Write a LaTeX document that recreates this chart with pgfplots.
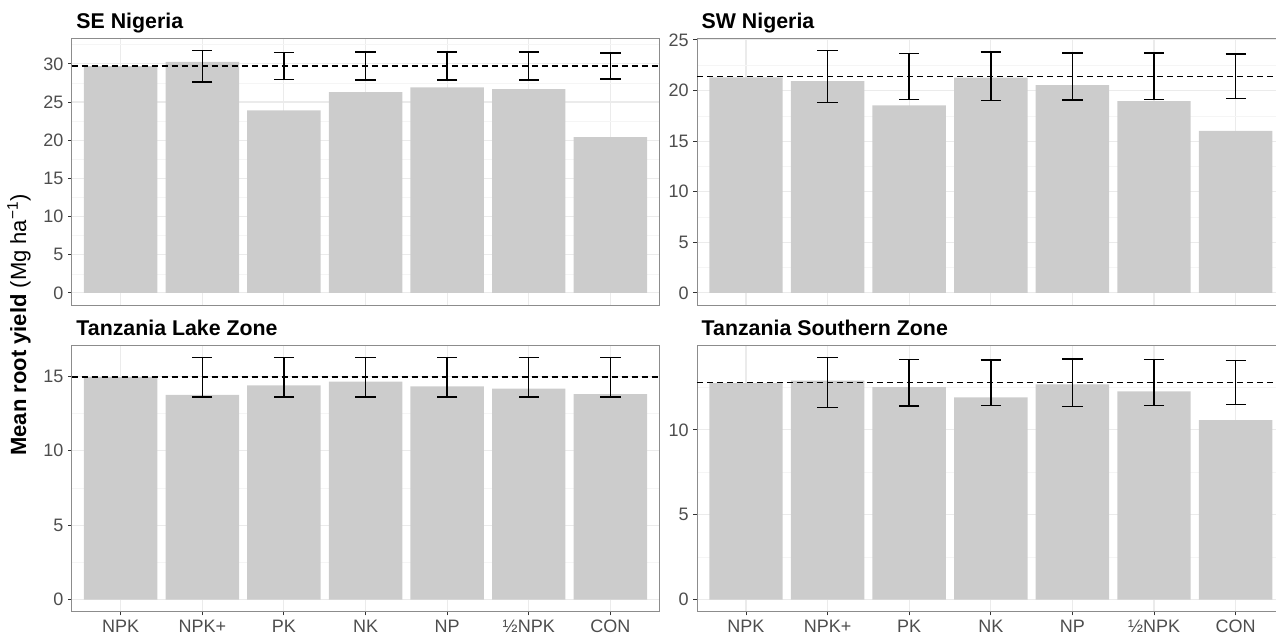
\documentclass[border=0pt]{standalone}
\usepackage{fontspec}
\setmainfont{Liberation Sans}
\usepackage{pgfplots}
\pgfplotsset{compat=1.18}

\definecolor{barfill}{RGB}{204,204,204}
\definecolor{gridmaj}{RGB}{235,235,235}
\definecolor{gridmin}{RGB}{245,245,245}
\definecolor{ticktext}{RGB}{77,77,77}
\definecolor{panelframe}{RGB}{140,140,140}

\pgfplotsset{
  every axis title/.style={at={(0,1)}, anchor=base west, xshift=0pt, yshift=7.3pt,
    font=\bfseries\fontsize{16}{18}\selectfont},
  panel/.style={
    scale only axis, width=440.7pt, height=199.7pt,
    xmin=0.4, xmax=7.6,
    xtick={1,2,3,4,5,6,7},
    ytick distance=5, minor y tick num=1,
    xmajorgrids, ymajorgrids, yminorgrids,
    major grid style={gridmaj, line width=0.8pt},
    minor grid style={gridmin, line width=0.4pt},
    axis line style={panelframe, line width=0.7pt},
    tick align=outside, xtick pos=bottom, ytick pos=left,
    major tick length=2.7pt, minor tick length=0pt,
    major tick style={color=black!80, line width=0.7pt},
    tick label style={font=\fontsize{13.5}{15}\selectfont, text=ticktext},
    /pgf/number format/assume math mode=true,
  },
  % right-hand panels run off the right edge of the picture
  rightcol/.style={width=434.2pt, xmax=7.494, axis x line*=box, axis y line*=left},
  toprow/.style={xticklabels={}, xtick style={draw=none}},
  botrow/.style={xticklabels={NPK,NPK+,PK,NK,NP,½NPK,CON}},
  bars/.style={ybar, bar width=0.9, fill=barfill, draw=none},
  ref/.style={black, line width=1.1pt, dash pattern=on 4.5pt off 3pt},
  eb/.style={draw=none, mark=none,
    error bars/.cd, y dir=both, y explicit,
    error bar style={draw=black, solid, line width=1.1pt},
    error mark options={draw=black, solid, rotate=90, mark size=7.6pt, line width=1.1pt}},
}

\begin{document}
\begin{tikzpicture}
% fixed page frame; the x tick labels are cut at the bottom, as in the source figure
\path[use as bounding box] (0,0) rectangle (957pt,475.5pt);

% SE Nigeria
\begin{axis}[panel, toprow, at={(53.8pt,246.75pt)}, anchor=south west,
  ymin=-1.585, ymax=33.285, title={SE Nigeria}]
\addplot[bars] coordinates {(1,29.7) (2,30.25) (3,23.9) (4,26.3) (5,26.9) (6,26.7) (7,20.4)};
\addplot[ref] coordinates {(0.4,29.7) (7.6,29.7)};
\addplot[eb] coordinates {(2,29.67) +- (0,2.05) (3,29.72) +- (0,1.78) (4,29.7) +- (0,1.85)
  (5,29.7) +- (0,1.85) (6,29.7) +- (0,1.85) (7,29.7) +- (0,1.7)};
\end{axis}

% SW Nigeria
\begin{axis}[panel, toprow, rightcol, at={(522.75pt,246.75pt)}, anchor=south west,
  ymin=-1.196, ymax=25.116, title={SW Nigeria}]
\addplot[bars] coordinates {(1,21.3) (2,20.93) (3,18.54) (4,21.26) (5,20.54) (6,18.96) (7,16.0)};
\addplot[ref] coordinates {(0.4,21.36) (7.6,21.36)};
\addplot[eb] coordinates {(2,21.38) +- (0,2.55) (3,21.39) +- (0,2.26) (4,21.4) +- (0,2.4)
  (5,21.39) +- (0,2.33) (6,21.41) +- (0,2.28) (7,21.41) +- (0,2.18)};
\end{axis}

% Tanzania Lake Zone
\begin{axis}[panel, botrow, at={(53.8pt,16.725pt)}, anchor=south west,
  ymin=-0.8135, ymax=17.08, title={Tanzania Lake Zone}]
\addplot[bars] coordinates {(1,14.95) (2,13.75) (3,14.4) (4,14.64) (5,14.33) (6,14.17) (7,13.81)};
\addplot[ref] coordinates {(0.4,14.95) (7.6,14.95)};
\addplot[eb] coordinates {(2,14.94) +- (0,1.33) (3,14.94) +- (0,1.33) (4,14.94) +- (0,1.33)
  (5,14.94) +- (0,1.33) (6,14.94) +- (0,1.33) (7,14.94) +- (0,1.33)};
\end{axis}

% Tanzania Southern Zone
\begin{axis}[panel, botrow, rightcol, at={(522.75pt,16.725pt)}, anchor=south west,
  ymin=-0.7135, ymax=14.98, title={Tanzania Southern Zone}]
\addplot[bars] coordinates {(1,12.78) (2,12.9) (3,12.52) (4,11.92) (5,12.68) (6,12.27) (7,10.57)};
\addplot[ref] coordinates {(0.4,12.78) (7.6,12.78)};
\addplot[eb] coordinates {(2,12.79) +- (0,1.48) (3,12.78) +- (0,1.37) (4,12.78) +- (0,1.35)
  (5,12.79) +- (0,1.4) (6,12.79) +- (0,1.36) (7,12.79) +- (0,1.3)};
\end{axis}

\node[rotate=90, anchor=center, font=\fontsize{16.5}{18}\selectfont] at (14.25pt,231.75pt)
  {\textbf{Mean root yield} (Mg ha\textsuperscript{−1})};

\end{tikzpicture}
\end{document}
